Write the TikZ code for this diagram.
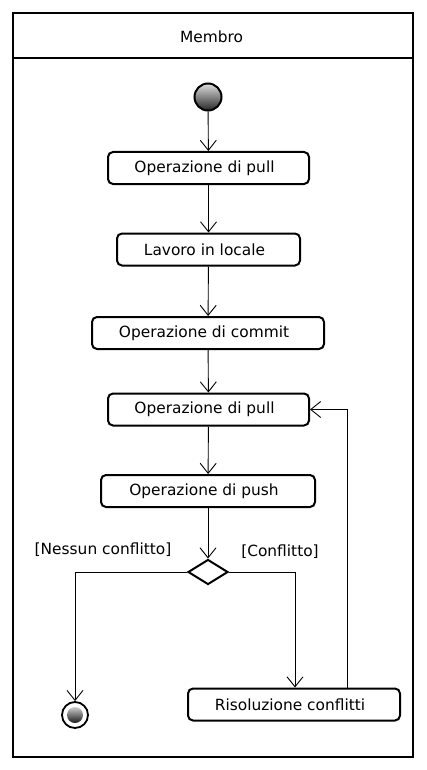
\documentclass[tikz,border=0pt]{standalone}
\usepackage{fontspec}
\setmainfont{DejaVu Sans}
\usetikzlibrary{arrows.meta,shapes.geometric}
\newcommand{\lft}[1]{#1\hspace*{8pt}}
\begin{document}
\begin{tikzpicture}[x=1pt,y=-1pt,
  every node/.style={font=\fontsize{15.4pt}{17pt}\selectfont},
  act/.style={draw,line width=2pt,rounded corners=5pt,minimum height=32pt,inner sep=0pt},
  flow/.style={line width=0.9pt,-{Straight Barb[length=10pt,width=16pt,line width=0.9pt]}}]
\useasboundingbox (0,0) rectangle (426,770);
\draw[line width=2pt] (13,13) rectangle (413,757);
\draw[line width=2pt] (13,58) -- (413,58);
\node (title) at (211.5,37) {Membro};
\node[circle,draw,line width=2pt,minimum size=27pt,inner sep=0pt,top color=gray!25,bottom color=black!85] (start) at (208,97) {};
\node[act,minimum width=201pt] (p1) at (208.5,168) {\lft{Operazione di pull}};
\node[act,minimum width=183pt] (lav) at (208.5,249.5) {\lft{Lavoro in locale}};
\node[act,minimum width=232pt] (com) at (208,333) {\lft{Operazione di commit}};
\node[act,minimum width=201pt] (p2) at (208.5,409.5) {\lft{Operazione di pull}};
\node[act,minimum width=214pt] (push) at (208,491) {\lft{Operazione di push}};
\node[diamond,draw,line width=2pt,minimum width=40pt,minimum height=25pt,inner sep=0pt] (dec) at (208,572) {};
\node[act,minimum width=212pt] (ris) at (294,704.5) {\lft{Risoluzione conflitti}};
\node[circle,draw,line width=1.8pt,minimum size=26pt,inner sep=0pt] (end) at (75,715) {};
\node[circle,minimum size=16pt,inner sep=0pt,top color=gray!40,bottom color=black!90] (endin) at (75,715) {};
\node (lno) at (103,550) {[Nessun conflitto]};
\node (lyes) at (280,552) {[Conflitto]};
\coordinate (lc) at (75,572);
\coordinate (rc) at (295,572);
\coordinate (up1) at (347,689);
\coordinate (up2) at (347,409.5);
\draw[flow] (start) -- (p1);
\draw[flow] (p1) -- (lav);
\draw[flow] (lav) -- (com);
\draw[flow] (com) -- (p2);
\draw[flow] (p2) -- (push);
\draw[flow] (push) -- (dec);
\draw[flow] (dec.west) -- (lc) -- (end);
\draw[flow] (dec.east) -- (rc) -- (rc |- ris.north);
\draw[flow] (up1) -- (up2) -- (p2.east);
\end{tikzpicture}
\end{document}
